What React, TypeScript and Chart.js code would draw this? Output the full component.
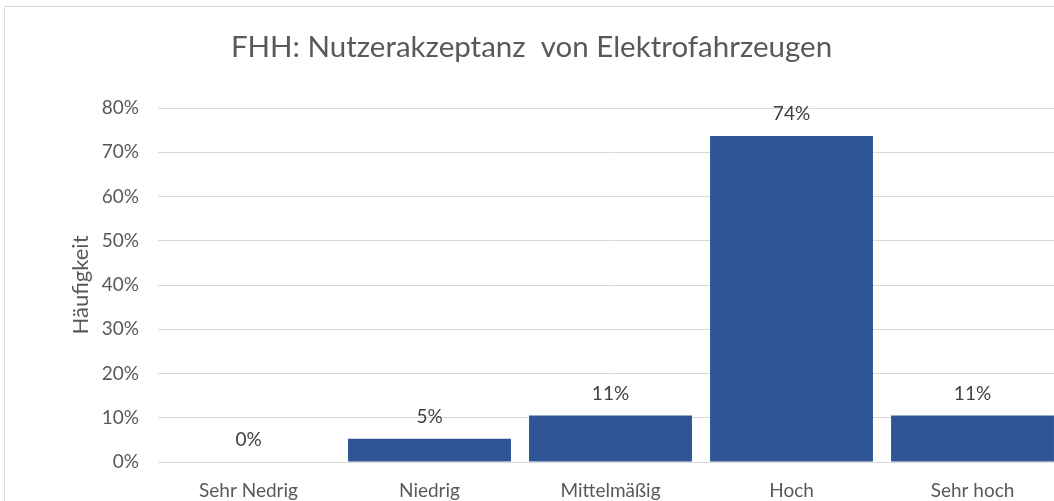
import React, { useEffect, useRef } from "react";
import { Chart, registerables } from "chart.js";

Chart.register(...registerables);

const chartTitle = "FHH: Nutzerakzeptanz  von Elektrofahrzeugen";
const categories = ["Sehr Nedrig", "Niedrig", "Mittelmäßig", "Hoch", "Sehr hoch"];
const shares = [0, 5.26, 10.53, 73.68, 10.53];
const yAxisTitle = "Häufigkeit";
const yMax = 80;
const yStep = 10;

const FONT = "Lato, 'Open Sans', sans-serif";
const TEXT = "#595959";

const dataLabels = {
  id: "dataLabels",
  afterDatasetsDraw(chart: any) {
    const ctx = chart.ctx;
    const meta = chart.getDatasetMeta(0);
    ctx.save();
    ctx.font = `19px ${FONT}`;
    ctx.fillStyle = "#404040";
    ctx.textAlign = "center";
    ctx.textBaseline = "middle";
    meta.data.forEach((bar: any, i: number) => {
      const v = chart.data.datasets[0].data[i] as number;
      ctx.fillText(`${Math.round(v)}%`, bar.x, bar.y - 22);
    });
    ctx.restore();
  },
};

export default function App() {
  const ref = useRef<HTMLCanvasElement>(null);
  useEffect(() => {
    if (!ref.current) return;
    const chart = new Chart(ref.current, {
      type: "bar",
      data: {
        labels: categories,
        datasets: [
          {
            data: shares,
            backgroundColor: "#2F5597",
            borderWidth: 0,
            barPercentage: 0.9,
            categoryPercentage: 1,
          },
        ],
      },
      options: {
        animation: false,
        responsive: false,
        layout: { padding: 0 },
        plugins: {
          legend: { display: false },
          tooltip: { enabled: false },
          title: {
            display: true,
            text: chartTitle,
            color: TEXT,
            font: { family: FONT, size: 29.5, weight: "normal" },
            padding: { top: 30, bottom: 42.6 },
          },
        },
        scales: {
          x: {
            grid: { display: false },
            border: { display: false },
            ticks: {
              color: TEXT,
              font: { family: FONT, size: 19 },
              padding: 9,
              maxRotation: 0,
            },
            afterFit: (s: any) => {
              s.height = 39;
            },
          },
          y: {
            min: 0,
            max: yMax,
            grid: { color: "#D9D9D9", lineWidth: 1, drawTicks: false },
            border: { display: false },
            ticks: {
              stepSize: yStep,
              color: TEXT,
              font: { family: FONT, size: 19 },
              padding: 19,
              callback: (v: any) => `${v}%`,
            },
            title: {
              display: true,
              text: yAxisTitle,
              color: TEXT,
              font: { family: FONT, size: 22 },
              padding: { top: 68, bottom: 0 },
            },
            afterFit: (s: any) => {
              s.width = 158;
            },
          },
        },
      },
      plugins: [dataLabels],
    });
    return () => chart.destroy();
  }, []);

  return (
    <div
      style={{
        position: "fixed",
        left: 0,
        top: 0,
        width: 1054,
        height: 501,
        overflow: "hidden",
        background: "#fff",
      }}
    >
      <div
        style={{
          position: "absolute",
          left: 4,
          top: 6,
          width: 1200,
          height: 700,
          border: "1px solid #D9D9D9",
        }}
      />
      <canvas
        ref={ref}
        width={1063}
        height={501}
        style={{ position: "absolute", left: 0, top: 0, width: 1063, height: 501 }}
      />
    </div>
  );
}
